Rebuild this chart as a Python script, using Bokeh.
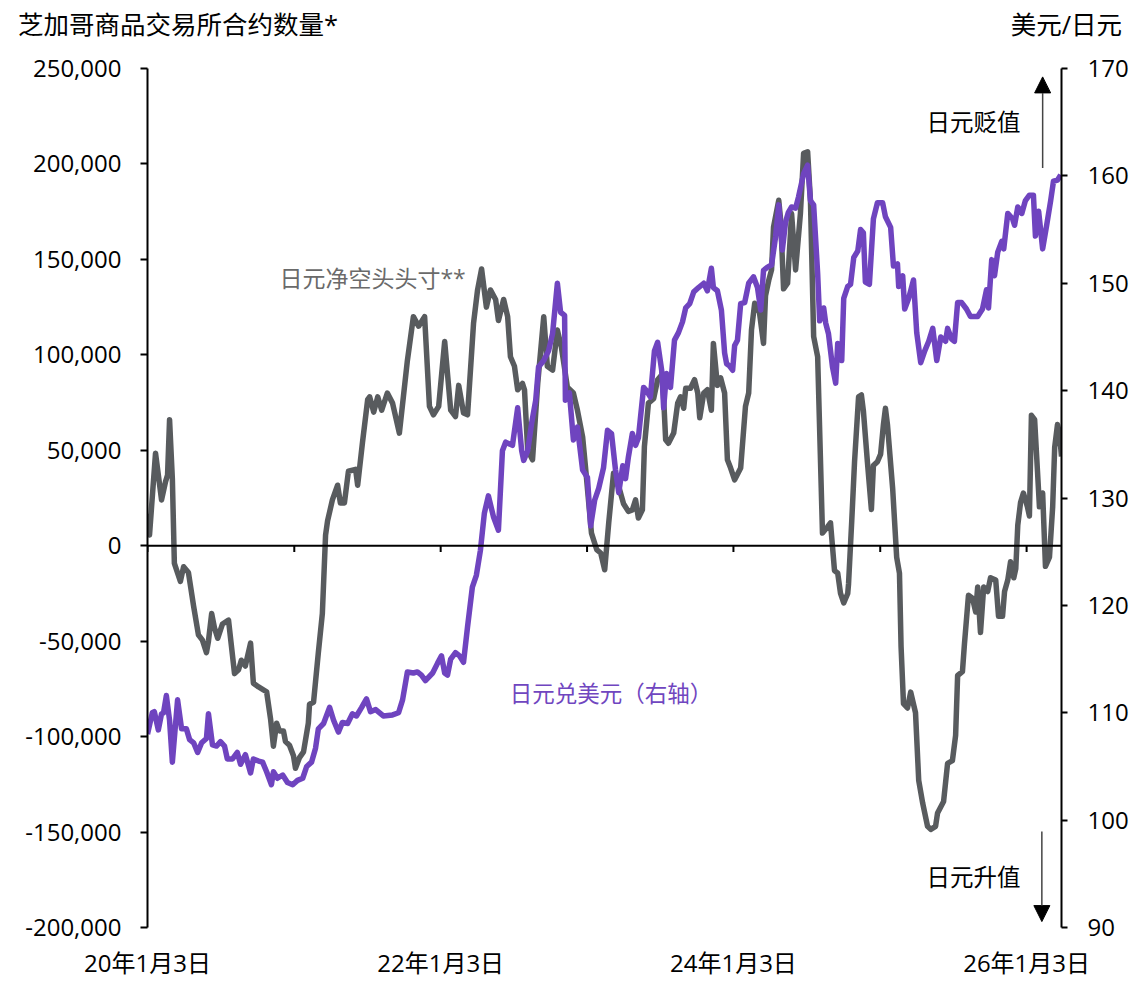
import pandas as pd
from bokeh.plotting import figure
from bokeh.layouts import column
from bokeh.models import (Range1d, LinearAxis, FixedTicker, NumeralTickFormatter, Span, Label,
                          Arrow, NormalHead, CustomJSTickFormatter, Div)
from bokeh.embed import file_html
from bokeh.resources import INLINE

FONT = "Open Sans, Noto Sans CJK SC"

# ---------------- data ----------------
pos_dates = ["2020-01-03","2020-01-08","2020-01-23","2020-02-07","2020-02-17","2020-02-22","2020-02-27","2020-03-05","2020-03-10","2020-03-25","2020-04-02","2020-04-14","2020-04-27","2020-05-09","2020-05-19","2020-05-29","2020-06-03","2020-06-11","2020-06-18","2020-06-26","2020-07-08","2020-07-23","2020-08-07","2020-08-17","2020-08-24","2020-09-03","2020-09-16","2020-09-23","2020-10-06","2020-10-18","2020-10-26","2020-11-05","2020-11-12","2020-11-20","2020-11-27","2020-12-07","2020-12-12","2020-12-22","2021-01-01","2021-01-06","2021-01-16","2021-01-26","2021-02-07","2021-02-10","2021-02-20","2021-03-04","2021-03-14","2021-03-22","2021-03-27","2021-04-08","2021-04-21","2021-04-28","2021-05-08","2021-05-18","2021-06-05","2021-06-10","2021-06-22","2021-07-05","2021-07-10","2021-07-20","2021-07-30","2021-08-09","2021-08-23","2021-09-05","2021-09-22","2021-10-02","2021-10-12","2021-10-27","2021-11-09","2021-11-24","2021-12-06","2021-12-16","2021-12-29","2022-01-13","2022-01-28","2022-02-09","2022-02-17","2022-03-01","2022-03-11","2022-03-26","2022-04-05","2022-04-15","2022-04-27","2022-05-07","2022-05-20","2022-05-27","2022-06-09","2022-06-19","2022-06-26","2022-07-06","2022-07-14","2022-07-26","2022-07-31","2022-08-08","2022-08-20","2022-09-02","2022-09-17","2022-09-26","2022-10-09","2022-10-21","2022-10-31","2022-11-15","2022-11-30","2022-12-10","2022-12-23","2022-12-30","2023-01-14","2023-01-27","2023-02-06","2023-02-16","2023-02-26","2023-03-10","2023-03-23","2023-04-04","2023-04-16","2023-04-26","2023-05-04","2023-05-11","2023-05-21","2023-05-26","2023-06-05","2023-06-18","2023-06-28","2023-07-10","2023-07-18","2023-07-25","2023-08-07","2023-08-17","2023-08-24","2023-09-01","2023-09-06","2023-09-18","2023-09-28","2023-10-06","2023-10-11","2023-10-21","2023-10-30","2023-11-09","2023-11-14","2023-11-24","2023-12-02","2023-12-12","2023-12-19","2023-12-27","2024-01-06","2024-01-21","2024-02-02","2024-02-10","2024-02-17","2024-02-25","2024-03-08","2024-03-18","2024-03-23","2024-03-31","2024-04-07","2024-04-12","2024-04-25","2024-04-30","2024-05-07","2024-05-17","2024-05-27","2024-06-06","2024-06-18","2024-06-26","2024-07-06","2024-07-13","2024-07-21","2024-07-31","2024-08-12","2024-08-25","2024-09-01","2024-09-11","2024-09-19","2024-09-26","2024-10-04","2024-10-14","2024-10-16","2024-10-24","2024-10-31","2024-11-10","2024-11-17","2024-11-22","2024-12-02","2024-12-12","2024-12-17","2024-12-27","2025-01-04","2025-01-11","2025-01-16","2025-01-21","2025-02-03","2025-02-13","2025-02-20","2025-02-24","2025-03-02","2025-03-12","2025-03-20","2025-04-01","2025-04-09","2025-04-19","2025-05-01","2025-05-09","2025-05-21","2025-05-26","2025-06-10","2025-06-20","2025-07-02","2025-07-10","2025-07-15","2025-07-27","2025-08-01","2025-08-11","2025-08-21","2025-08-29","2025-09-03","2025-09-10","2025-09-18","2025-09-28","2025-10-05","2025-10-18","2025-10-25","2025-11-04","2025-11-09","2025-11-17","2025-11-24","2025-12-02","2025-12-07","2025-12-12","2025-12-19","2025-12-26","2026-01-05","2026-01-10","2026-01-15","2026-01-23","2026-01-30","2026-02-04","2026-02-12","2026-02-19","2026-03-01","2026-03-09","2026-03-14","2026-03-21","2026-03-26","2026-03-31"]
pos_values = [16800,5600,48500,24000,33600,37000,66000,35000,-9300,-18700,-11000,-14000,-31700,-46700,-49500,-56000,-50000,-35500,-43000,-48500,-41000,-39000,-67000,-65000,-60000,-63000,-51000,-72000,-74000,-75500,-76500,-91000,-105000,-93000,-97000,-97000,-102600,-104500,-110000,-116600,-111000,-108000,-93000,-83000,-82000,-56000,-35500,5600,13000,24000,31700,22400,22400,39000,40000,31700,54000,76500,78000,70000,78000,71000,80000,74700,59000,78000,97000,120000,115000,120000,73000,68600,73000,107000,71000,67700,84000,69500,68600,116600,134000,145000,125000,134000,129000,118000,129000,120000,99000,94000,81700,85000,81700,50000,45000,85000,120000,94000,92000,113000,104000,83000,80000,71000,57000,41500,6600,-2000,-3800,-12600,11900,38000,31000,22000,18000,18800,24000,14500,18800,52000,74700,77000,87000,90000,55500,53700,59000,74700,78000,72000,82500,82500,87000,80000,67000,80000,81700,71000,106000,84000,88000,80000,45000,40700,34500,40700,73000,80000,113000,127000,122000,106000,131000,139000,144500,167000,181000,170000,134600,137500,174000,144500,174000,205600,206400,181000,109600,99000,6600,10000,12000,-13000,-14400,-25000,-30000,-25000,-20000,13000,44000,78000,79000,70700,44000,19000,42000,44000,48000,63500,72000,63500,30000,-6000,-14400,-53000,-82700,-85000,-76700,-87500,-123000,-135000,-147000,-148600,-147000,-140000,-134000,-114000,-112600,-99400,-68000,-66000,-51500,-26000,-27500,-34700,-21600,-45500,-21600,-24000,-16800,-18000,-37000,-37000,-24000,-18000,-8400,-16800,-12000,10800,22800,27600,20400,15600,68300,66000,39500,20400,27600,-10800,-6000,20400,51500,63500,58700,46700]

fx_dates = ["2020-01-03","2020-01-15","2020-01-20","2020-01-30","2020-02-07","2020-02-12","2020-02-19","2020-02-27","2020-03-05","2020-03-18","2020-03-28","2020-04-09","2020-04-17","2020-04-27","2020-05-07","2020-05-17","2020-05-29","2020-06-03","2020-06-13","2020-06-23","2020-07-03","2020-07-13","2020-07-20","2020-08-02","2020-08-14","2020-08-22","2020-09-03","2020-09-16","2020-09-23","2020-10-06","2020-10-16","2020-10-26","2020-11-07","2020-11-12","2020-11-22","2020-12-05","2020-12-17","2020-12-30","2021-01-11","2021-01-24","2021-02-03","2021-02-15","2021-02-25","2021-03-04","2021-03-17","2021-04-01","2021-04-11","2021-04-23","2021-05-03","2021-05-16","2021-05-28","2021-06-07","2021-06-20","2021-07-02","2021-07-12","2021-07-25","2021-08-13","2021-09-05","2021-09-20","2021-09-30","2021-10-12","2021-10-27","2021-11-06","2021-11-16","2021-11-26","2021-12-14","2021-12-26","2022-01-05","2022-01-13","2022-01-20","2022-01-28","2022-02-09","2022-02-19","2022-03-01","2022-03-11","2022-03-23","2022-04-02","2022-04-12","2022-04-22","2022-05-02","2022-05-15","2022-05-27","2022-06-06","2022-06-14","2022-07-01","2022-07-14","2022-07-24","2022-07-29","2022-08-08","2022-08-18","2022-08-28","2022-09-04","2022-09-17","2022-09-29","2022-10-09","2022-10-21","2022-10-29","2022-11-08","2022-11-10","2022-11-20","2022-11-30","2022-12-10","2022-12-23","2023-01-04","2023-01-12","2023-01-22","2023-02-01","2023-02-13","2023-02-23","2023-03-05","2023-03-15","2023-03-23","2023-04-02","2023-04-09","2023-04-16","2023-04-26","2023-05-04","2023-05-11","2023-05-24","2023-05-31","2023-06-10","2023-06-20","2023-06-28","2023-07-08","2023-07-13","2023-07-20","2023-07-30","2023-08-09","2023-08-19","2023-08-29","2023-09-06","2023-09-16","2023-09-26","2023-10-08","2023-10-21","2023-10-30","2023-11-09","2023-11-14","2023-11-24","2023-12-04","2023-12-12","2023-12-17","2023-12-24","2024-01-01","2024-01-06","2024-01-13","2024-01-21","2024-01-31","2024-02-10","2024-02-22","2024-03-03","2024-03-11","2024-03-18","2024-03-28","2024-04-07","2024-04-17","2024-04-25","2024-05-04","2024-05-12","2024-05-19","2024-05-27","2024-06-06","2024-06-13","2024-06-26","2024-07-06","2024-07-13","2024-07-21","2024-07-31","2024-08-05","2024-08-15","2024-08-20","2024-08-27","2024-09-06","2024-09-14","2024-09-19","2024-09-29","2024-10-04","2024-10-14","2024-10-21","2024-10-29","2024-11-08","2024-11-15","2024-11-22","2024-11-27","2024-12-07","2024-12-17","2024-12-27","2025-01-09","2025-01-16","2025-01-29","2025-02-05","2025-02-15","2025-02-18","2025-02-28","2025-03-05","2025-03-15","2025-03-27","2025-04-04","2025-04-14","2025-04-24","2025-05-04","2025-05-14","2025-05-24","2025-06-03","2025-06-15","2025-06-20","2025-06-30","2025-07-07","2025-07-15","2025-07-25","2025-08-06","2025-08-16","2025-09-03","2025-09-15","2025-09-25","2025-09-30","2025-10-08","2025-10-15","2025-10-23","2025-11-02","2025-11-07","2025-11-17","2025-11-29","2025-12-04","2025-12-12","2025-12-22","2025-12-31","2026-01-10","2026-01-20","2026-01-25","2026-02-02","2026-02-12","2026-02-22","2026-03-04","2026-03-11","2026-03-21","2026-03-29"]
fx_values = [108.0,110.0,110.1,108.4,109.9,110.0,111.6,109.3,105.4,111.2,108.5,108.5,107.5,107.2,106.3,107.2,107.6,109.9,107.0,106.9,107.3,106.9,105.7,105.7,106.3,105.2,106.1,104.4,105.7,105.5,105.4,104.5,103.3,104.5,103.9,104.2,103.5,103.3,103.7,103.9,105.0,105.4,106.7,108.5,109.0,110.5,109.3,108.2,109.1,109.0,109.9,109.7,110.5,111.3,110.1,110.3,109.7,109.8,110.0,111.2,113.8,113.7,113.8,113.5,113.0,113.7,114.6,115.3,113.7,113.5,115.0,115.6,115.3,114.7,118.0,121.7,122.8,125.1,128.6,130.2,128.2,127.0,134.4,135.2,134.9,138.4,134.4,133.5,134.4,137.0,139.1,142.2,142.8,143.7,145.3,150.0,147.3,147.0,139.1,139.8,135.4,136.6,132.6,131.9,127.4,129.8,130.9,132.8,136.3,136.0,132.6,130.5,133.0,131.8,133.8,136.0,134.9,135.6,140.3,140.0,139.4,143.7,144.5,141.9,138.4,141.6,140.3,144.7,145.4,146.4,147.7,148.1,149.2,149.6,150.0,149.3,151.4,149.6,149.3,147.5,143.5,142.5,142.3,141.9,144.2,144.7,148.1,148.2,150.0,150.6,149.6,147.5,151.2,151.5,151.7,154.3,157.3,153.1,155.7,156.6,157.1,157.0,158.0,160.2,161.0,157.7,157.3,150.9,146.5,147.7,146.3,145.3,142.2,140.7,144.4,142.8,148.6,149.7,149.9,152.4,153.0,155.0,154.7,150.1,149.9,156.0,157.5,157.5,156.2,155.2,151.6,151.8,149.7,150.7,147.6,148.6,150.3,145.4,142.6,143.7,144.6,145.8,142.8,145.0,144.6,145.8,144.8,144.6,148.2,148.2,147.6,146.9,146.9,147.6,149.4,147.7,152.2,150.7,152.9,153.9,153.2,156.5,156.0,155.4,157.1,156.5,157.7,158.2,158.2,154.4,156.7,153.2,155.4,157.7,159.5,159.6,160.1]

left_ticks = [-200000, -150000, -100000, -50000, 0, 50000, 100000, 150000, 200000, 250000]
right_ticks = [90, 100, 110, 120, 130, 140, 150, 160, 170]
x_label_dates = ["2020-01-03", "2022-01-03", "2024-01-03", "2026-01-03"]
x_tick_labels = ["20年1月3日", "22年1月3日", "24年1月3日", "26年1月3日"]
year_tick_dates = ["2020-01-03", "2021-01-03", "2022-01-03", "2023-01-03", "2024-01-03", "2025-01-03", "2026-01-03"]

left_title = "芝加哥商品交易所合约数量*"
right_title = "美元/日元"
pos_label = "日元净空头头寸**"
fx_label = "日元兑美元（右轴）"
weak_label = "日元贬值"
strong_label = "日元升值"

# ---------------- figure ----------------
T = lambda s: pd.Timestamp(s)
GRAY = "#585b5e"
PURPLE = "#6f44bf"
CSS_FONT = "'Open Sans', 'Noto Sans CJK SC', sans-serif"

header = Div(
    text=(f'<div style="position:relative;width:1133px;height:40px;font-family:{CSS_FONT};'
          f'font-size:25.5px;color:black;">'
          f'<span style="position:absolute;left:18px;top:8px;line-height:32px;white-space:nowrap;">{left_title}</span>'
          f'<span style="position:absolute;right:11px;top:8px;line-height:32px;white-space:nowrap;">{right_title}</span>'
          f'</div>'),
    width=1133, height=40, margin=(0, 0, 0, 0))

p = figure(frame_width=914, frame_height=859, x_axis_type="datetime",
           x_range=Range1d(T("2020-01-03"), T("2026-03-31")),
           y_range=Range1d(-200000, 250000),
           output_backend="svg", toolbar_location=None,
           min_border_left=147, min_border_right=72, min_border_top=28, min_border_bottom=54,
           margin=(0, 0, 0, 0))
p.outline_line_color = None
p.grid.visible = False
p.background_fill_color = "white"
p.border_fill_color = "white"

p.extra_y_ranges = {"fx": Range1d(90, 170)}

# left axis
ya = p.yaxis[0]
ya.ticker = FixedTicker(ticks=left_ticks)
ya.formatter = NumeralTickFormatter(format="0,0")
ya.axis_line_width = 2
ya.major_tick_line_width = 2
ya.major_tick_in = 0
ya.major_tick_out = 7
ya.minor_tick_line_color = None
ya.major_label_text_font = FONT
ya.major_label_text_font_size = "24px"
ya.major_label_text_color = "black"
ya.major_label_standoff = 19

# right axis
ra = LinearAxis(y_range_name="fx", ticker=FixedTicker(ticks=right_ticks))
ra.axis_line_width = 2
ra.major_tick_line_width = 2
ra.major_tick_in = 0
ra.major_tick_out = 6
ra.minor_tick_line_color = None
ra.major_label_text_font = FONT
ra.major_label_text_font_size = "24px"
ra.major_label_text_color = "black"
ra.major_label_standoff = 20
p.add_layout(ra, "right")

# bottom axis: labels only
xa = p.xaxis[0]
label_ms = [T(d).value / 1e6 for d in x_label_dates]
xa.ticker = FixedTicker(ticks=label_ms)
xa.formatter = CustomJSTickFormatter(args=dict(tick_ms=label_ms, tick_labels=x_tick_labels), code="""
let best = 0, bd = Infinity;
for (let i = 0; i < tick_ms.length; i++) { const d = Math.abs(tick_ms[i] - tick); if (d < bd) { bd = d; best = i; } }
return tick_labels[best];
""")
xa.axis_line_color = None
xa.major_tick_line_color = None
xa.minor_tick_line_color = None
xa.major_label_text_font = FONT
xa.major_label_text_font_size = "24px"
xa.major_label_text_color = "black"
xa.major_label_standoff = 12

# zero line with yearly ticks
p.add_layout(Span(location=0, dimension="width", line_color="black", line_width=2))
yd = [T(d) for d in year_tick_dates]
p.segment(x0=yd, y0=[0] * len(yd), x1=yd, y1=[-3300] * len(yd), line_color="black", line_width=2)

# series
p.line([T(d) for d in pos_dates], pos_values, line_color=GRAY, line_width=5.5, line_join="round")
p.line([T(d) for d in fx_dates], fx_values, y_range_name="fx", line_color=PURPLE, line_width=5.5, line_join="round")

# texts inside the plot
def lab(x, y, text, size, color="black", align="left"):
    p.add_layout(Label(x=T(x), y=y, text=text, text_font=FONT, text_font_size=size,
                       text_color=color, text_align=align, text_baseline="middle"))

lab("2020-11-27", 140300, pos_label, "23px", color="#6a6a6a")
lab("2022-06-24", -77500, fx_label, "22.5px", color="#7046c0")
lab("2025-12-19", 222000, weak_label, "23.5px", align="right")
lab("2025-12-19", -173800, strong_label, "23.5px", align="right")

# arrows
p.add_layout(Arrow(end=NormalHead(size=16, fill_color="black", line_color="black"),
                   x_start=T("2026-02-12"), y_start=197900, x_end=T("2026-02-12"), y_end=245600,
                   line_color="#444444", line_width=1.5))
p.add_layout(Arrow(end=NormalHead(size=16, fill_color="black", line_color="black"),
                   x_start=T("2026-02-10"), y_start=-149700, x_end=T("2026-02-10"), y_end=-196900,
                   line_color="#444444", line_width=1.5))

page = column(header, p, spacing=0, margin=(0, 0, 0, 0))
open("out.html", "w").write(file_html(page, INLINE))
